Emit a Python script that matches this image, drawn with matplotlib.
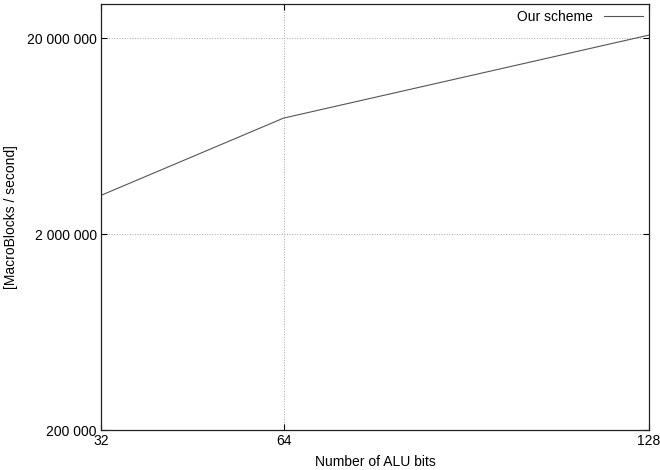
import matplotlib
matplotlib.use("Agg")
import matplotlib.pyplot as plt
from matplotlib.ticker import FixedLocator, FuncFormatter, NullLocator

plt.rcParams['font.family'] = ['Liberation Sans', 'DejaVu Sans']

alu_bits = [32, 64, 128]
mb_per_sec = [3160000, 7840000, 20800000]
x_ticks = [32, 64, 128]
y_ticks = [200000, 2000000, 20000000]


def fmt_thousands(v, pos):
    return f"{int(round(v)):,}".replace(",", " ")


fig = plt.figure(figsize=(6.6, 4.7), dpi=100)
ax = fig.add_axes([0.153, 0.085, 0.83, 0.9065])

ax.plot(alu_bits, mb_per_sec, color='#555555', linewidth=0.8, label='Our scheme')

ax.set_yscale('log')
ax.set_xlim(32, 128)
ax.set_ylim(200000, 30000000)

ax.xaxis.set_major_locator(FixedLocator(x_ticks))
ax.yaxis.set_major_locator(FixedLocator(y_ticks))
ax.yaxis.set_minor_locator(NullLocator())
ax.yaxis.set_major_formatter(FuncFormatter(fmt_thousands))

ax.tick_params(direction='in', top=True, right=True, length=4, width=0.8,
               labelsize=10, pad=3)
ax.grid(True, linestyle=':', color='#aaaaaa', linewidth=0.7)

for s in ax.spines.values():
    s.set_linewidth(0.9)
    s.set_color('#222222')

ax.set_xlabel('Number of ALU bits', fontsize=10, labelpad=5)
ax.set_ylabel('[MacroBlocks / second]', fontsize=10)
ax.yaxis.set_label_coords(-0.152, 0.5)

leg = ax.legend(loc='upper right', frameon=False, fontsize=10,
                markerfirst=False, handlelength=2.8, borderaxespad=0.0)

fig.savefig('out.png', dpi=100)
